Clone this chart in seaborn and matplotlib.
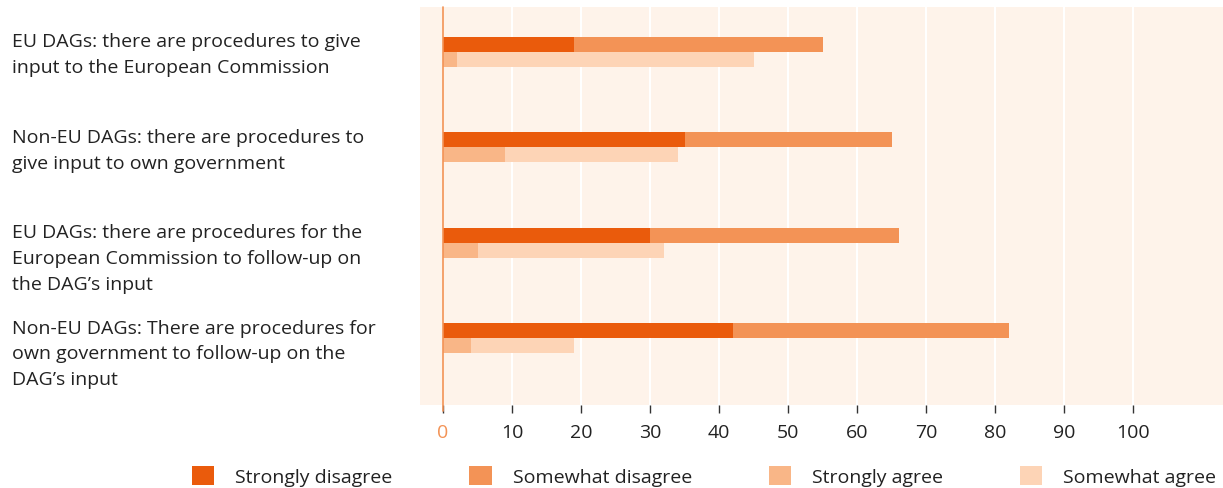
import matplotlib
matplotlib.use("Agg")
import matplotlib.pyplot as plt
import matplotlib.transforms as mtransforms
from matplotlib.patches import Patch
import seaborn as sns
import pandas as pd

categories = [
    "EU DAGs: there are procedures to give\ninput to the European Commission",
    "Non-EU DAGs: there are procedures to\ngive input to own government",
    "EU DAGs: there are procedures for the\nEuropean Commission to follow-up on\nthe DAG\u2019s input",
    "Non-EU DAGs: There are procedures for\nown government to follow-up on the\nDAG\u2019s input",
]
strongly_disagree = [19, 35, 30, 42]
somewhat_disagree = [36, 30, 36, 40]
strongly_agree = [2, 9, 5, 4]
somewhat_agree = [43, 25, 27, 15]
series_names = ["Strongly disagree", "Somewhat disagree", "Strongly agree", "Somewhat agree"]
xticks = list(range(0, 101, 10))

colors = {"Strongly disagree": "#EA5B0C", "Somewhat disagree": "#F39356",
          "Strongly agree": "#F9B687", "Somewhat agree": "#FDD4B6"}
bg = "#FEF3EA"

sns.set_theme(style="white")
plt.rcParams["font.family"] = ["Open Sans", "DejaVu Sans"]

keys = [str(i) for i in range(len(categories))]
rows_total, rows_first = [], []
for k, sd, swd, sa, swa in zip(keys, strongly_disagree, somewhat_disagree, strongly_agree, somewhat_agree):
    rows_total.append({"cat": k, "kind": "disagree", "value": sd + swd})
    rows_total.append({"cat": k, "kind": "agree", "value": sa + swa})
    rows_first.append({"cat": k, "kind": "disagree", "value": sd})
    rows_first.append({"cat": k, "kind": "agree", "value": sa})
df_total = pd.DataFrame(rows_total)
df_first = pd.DataFrame(rows_first)

fig = plt.figure(figsize=(12.23, 4.89), dpi=100)
ax = fig.add_axes([420 / 1223, 1 - 406 / 489, 1 - 420 / 1223, (406 - 8) / 489])
ax.set_facecolor(bg)

sns.barplot(data=df_total, y="cat", x="value", hue="kind", orient="h", ax=ax,
            palette={"disagree": colors["Somewhat disagree"], "agree": colors["Somewhat agree"]},
            width=0.316, gap=0, errorbar=None, legend=False, saturation=1, zorder=3)
sns.barplot(data=df_first, y="cat", x="value", hue="kind", orient="h", ax=ax,
            palette={"disagree": colors["Strongly disagree"], "agree": colors["Strongly agree"]},
            width=0.316, gap=0, errorbar=None, legend=False, saturation=1, zorder=4)
for p in ax.patches:
    p.set_linewidth(0)

ax.set_xlim(-3.33, 113.0)
ax.set_ylim(3.70, -0.47)
ax.set_xticks(xticks)
ax.set_xticklabels([str(t) for t in xticks], fontsize=14, color="#222222")
ax.get_xticklabels()[0].set_color("#F39356")
ax.set_yticks([])
ax.set_xlabel("")
ax.set_ylabel("")
for s in ax.spines.values():
    s.set_visible(False)
for t in xticks[1:]:
    ax.axvline(t, color="white", lw=1.5, zorder=1)
ax.axvline(0, color="#F39356", lw=1.2, zorder=5, ymin=-0.015, ymax=1, clip_on=False)
ax.tick_params(axis="x", length=6, width=1, color="#333333", pad=7, bottom=True)
ax.xaxis.get_major_ticks()[0].tick1line.set_color("#F39356")

trans = mtransforms.blended_transform_factory(fig.transFigure, ax.transData)
for i, lab in enumerate(categories):
    ax.text(12 / 1223, i - 0.205, lab, transform=trans, ha="left", va="top",
            fontsize=14, color="#222222", linespacing=1.56)

handles = [Patch(facecolor=colors[n], edgecolor="none", label=n) for n in series_names]
fig.legend(handles=handles, loc="center left", bbox_to_anchor=(192 / 1223, 1 - 477 / 489),
           ncol=4, frameon=False, fontsize=14, handlelength=1.15, handleheight=1.15,
           handletextpad=1.08, columnspacing=3.95, borderpad=0, borderaxespad=0,
           labelcolor="#222222")

fig.savefig("out.png", dpi=100, facecolor="white")
